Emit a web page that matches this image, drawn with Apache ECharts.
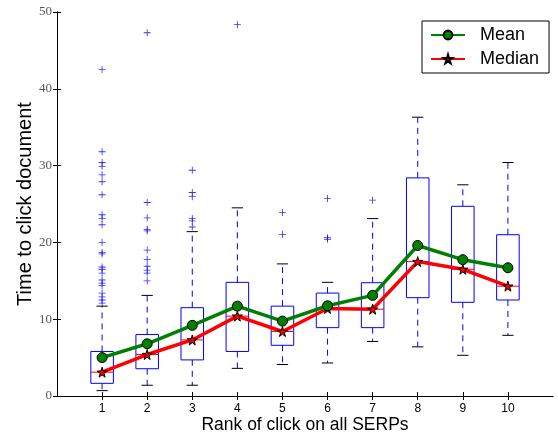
<!DOCTYPE html>
<html>
<head>
<meta charset="utf-8">
<script src="https://cdn.jsdelivr.net/npm/echarts@6/dist/echarts.min.js"></script>
<style>
html, body { margin: 0; padding: 0; background: #fff; }
#chart { width: 558px; height: 438px; }
</style>
</head>
<body>
<div id="chart"></div>
<script>
// values
var ranks = [1, 2, 3, 4, 5, 6, 7, 8, 9, 10];
var whiskerLow = [0.7, 1.4, 1.4, 3.6, 4.1, 4.3, 7.1, 6.4, 5.3, 7.9];
var q1 = [1.65, 3.55, 4.7, 5.8, 6.6, 8.9, 8.9, 12.8, 12.2, 12.5];
var medians = [3.1, 5.4, 7.3, 10.4, 8.4, 11.4, 11.3, 17.5, 16.5, 14.3];
var q3 = [5.8, 8.0, 11.5, 14.8, 11.7, 13.4, 14.75, 28.4, 24.7, 21.0];
var whiskerHigh = [11.7, 13.1, 21.4, 24.5, 17.2, 14.8, 23.1, 36.3, 27.5, 30.4];
var means = [5.0, 6.8, 9.2, 11.7, 9.75, 11.75, 13.1, 19.6, 17.75, 16.7];
var outliers = [
  [42.5, 31.8, 30.4, 29.9, 28.8, 27.9, 26.2, 23.6, 23.1, 22.3, 20.0, 18.7, 18.5, 16.8, 16.5, 16.0, 15.1, 14.7, 14.4, 13.4, 12.9, 12.5, 12.1],
  [47.3, 25.2, 23.2, 21.7, 21.5, 19.0, 17.8, 16.9, 16.4, 16.0, 15.0],
  [29.4, 26.5, 25.95, 23.1, 22.8, 22.0],
  [48.35],
  [23.9, 21.05],
  [25.7, 20.6, 20.4],
  [25.5],
  [],
  [],
  []
];
var yTicks = [0, 10, 20, 30, 40, 50];

var boxData = ranks.map(function (r, i) {
  return [r, whiskerLow[i], q1[i], medians[i], q3[i], whiskerHigh[i]];
});
var outlierData = [];
ranks.forEach(function (r, i) {
  outliers[i].forEach(function (v) { outlierData.push([r, v]); });
});
var meanData = ranks.map(function (r, i) { return [r, means[i]]; });
var medianData = ranks.map(function (r, i) { return [r, medians[i]]; });

var plusPath = 'path://M4.4,0h1.2v10h-1.2z M0,4.4h10v1.2h-10z';
var starPath = 'path://M50,0 L61,35 L98,35 L68,57 L79,91 L50,70 L21,91 L32,57 L2,35 L39,35 Z';

function renderBox(params, api) {
  var x = api.value(0);
  var pLow = api.coord([x, api.value(1)]);
  var pQ1 = api.coord([x, api.value(2)]);
  var pMed = api.coord([x, api.value(3)]);
  var pQ3 = api.coord([x, api.value(4)]);
  var pHigh = api.coord([x, api.value(5)]);
  var half = api.size([0.25, 0])[0];
  var cap = api.size([0.125, 0])[0];
  var cx = pMed[0];
  var blue = '#0000ff';
  return {
    type: 'group',
    children: [
      { type: 'line', shape: { x1: cx, y1: pQ3[1], x2: cx, y2: pHigh[1] },
        style: { stroke: blue, lineWidth: 1, lineDash: [6, 5] } },
      { type: 'line', shape: { x1: cx, y1: pQ1[1], x2: cx, y2: pLow[1] },
        style: { stroke: blue, lineWidth: 1, lineDash: [6, 5] } },
      { type: 'line', shape: { x1: cx - cap, y1: pHigh[1], x2: cx + cap, y2: pHigh[1] },
        style: { stroke: '#000', lineWidth: 1 } },
      { type: 'line', shape: { x1: cx - cap, y1: pLow[1], x2: cx + cap, y2: pLow[1] },
        style: { stroke: '#000', lineWidth: 1 } },
      { type: 'rect', shape: { x: cx - half, y: pQ3[1], width: half * 2, height: pQ1[1] - pQ3[1] },
        style: { fill: 'none', stroke: blue, lineWidth: 1 } },
      { type: 'line', shape: { x1: cx - half, y1: pMed[1], x2: cx + half, y2: pMed[1] },
        style: { stroke: '#ff0000', lineWidth: 1 } }
    ]
  };
}

var chart = echarts.init(document.getElementById('chart'));
var option = {
  animation: false,
  textStyle: { fontFamily: 'Liberation Sans' },
  grid: { left: 57, right: 5, top: 12, bottom: 42, outerBoundsMode: 'none', containLabel: false },
  legend: {
    data: ['Mean', 'Median'],
    orient: 'vertical',
    left: 422,
    top: 21,
    padding: [5, 10, 5, 8],
    itemGap: 6,
    itemWidth: 34,
    itemHeight: 11,
    backgroundColor: '#fff',
    borderColor: '#000',
    borderWidth: 1,
    textStyle: { fontSize: 18, color: '#000', fontFamily: 'Liberation Sans', padding: [0, 0, 0, 10] }
  },
  xAxis: [
    {
      type: 'value', min: 0, max: 11, interval: 1, position: 'bottom',
      name: 'Rank of click on all SERPs', nameLocation: 'middle', nameGap: 20,
      nameMoveOverlap: false,
      nameTextStyle: { fontSize: 17.5, color: '#000', fontFamily: 'Liberation Sans' },
      axisLine: { lineStyle: { color: '#000', width: 1 } },
      axisTick: { inside: true, length: 4, lineStyle: { color: '#000' }, customValues: ranks },
      axisLabel: { fontSize: 12, color: '#000', margin: 7, customValues: ranks },
      splitLine: { show: false }
    },
    {
      type: 'value', min: 0, max: 11, interval: 1, position: 'top',
      axisLine: { lineStyle: { color: '#000', width: 1 } },
      axisTick: { inside: true, length: 4, lineStyle: { color: '#000' }, customValues: ranks },
      axisLabel: { show: false },
      splitLine: { show: false }
    }
  ],
  yAxis: [
    {
      type: 'value', min: 0, max: 50, interval: 10, position: 'left',
      name: 'Time to click document', nameLocation: 'middle', nameGap: 22,
      nameMoveOverlap: false,
      nameTextStyle: { fontSize: 20, color: '#000', fontFamily: 'Liberation Sans' },
      axisLine: { lineStyle: { color: '#000', width: 1 } },
      axisTick: { inside: true, length: 4, lineStyle: { color: '#000' }, customValues: yTicks },
      axisLabel: { fontSize: 13, color: '#555', fontFamily: 'Liberation Serif', margin: 5, customValues: yTicks },
      splitLine: { show: false }
    },
    {
      type: 'value', min: 0, max: 50, interval: 10, position: 'right',
      axisLine: { lineStyle: { color: '#000', width: 1 } },
      axisTick: { inside: true, length: 4, lineStyle: { color: '#000' }, customValues: yTicks },
      axisLabel: { show: false },
      splitLine: { show: false }
    }
  ],
  series: [
    {
      type: 'custom',
      renderItem: renderBox,
      data: boxData,
      encode: { x: 0, y: [1, 2, 3, 4, 5] },
      silent: true,
      z: 1
    },
    {
      type: 'scatter',
      data: outlierData,
      symbol: plusPath,
      symbolSize: 7,
      itemStyle: { color: '#0000ff' },
      silent: true,
      z: 2
    },
    {
      name: 'Mean',
      type: 'line',
      data: meanData,
      symbol: 'circle',
      symbolSize: 10,
      lineStyle: { color: '#008000', width: 3.5 },
      itemStyle: { color: '#008000', borderColor: '#000', borderWidth: 1 },
      z: 4
    },
    {
      name: 'Median',
      type: 'line',
      data: medianData,
      symbol: starPath,
      symbolSize: 10,
      lineStyle: { color: '#ff0000', width: 3.5 },
      itemStyle: { color: '#ff0000', borderColor: '#000', borderWidth: 1 },
      z: 3
    }
  ]
};
chart.setOption(option);
</script>
</body>
</html>
